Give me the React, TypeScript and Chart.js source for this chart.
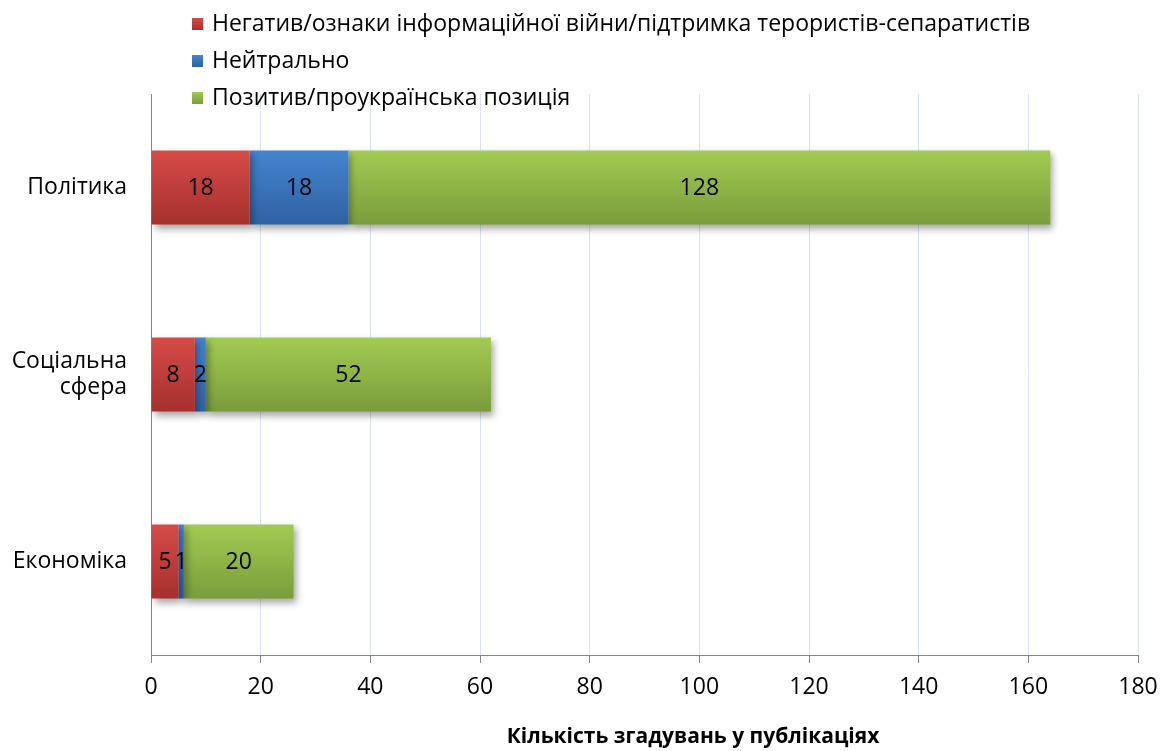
import React, { useEffect, useRef } from "react";
import { Chart, registerables } from "chart.js";

Chart.register(...registerables);

const categories: (string | string[])[] = ["Політика", ["Соціальна", "сфера"], "Економіка"];
const negativeValues = [18, 8, 5];
const neutralValues = [18, 2, 1];
const positiveValues = [128, 52, 20];
const seriesNames = [
  "Негатив/ознаки інформаційної війни/підтримка терористів-сепаратистів",
  "Нейтрально",
  "Позитив/проукраїнська позиція",
];
const xTitle = "Кількість згадувань у публікаціях";

const FONT = "'Open Sans', 'Noto Sans', sans-serif";

const palettes = [
  { top: "#D64B48", bottom: "#A5302D", swatch: "#C0504D" },
  { top: "#4484CF", bottom: "#2F62A2", swatch: "#4F81BD" },
  { top: "#A2CB52", bottom: "#7A9C3C", swatch: "#9BBB59" },
];

function gradientFor(idx: number) {
  return (ctx: any) => {
    const chart = ctx.chart;
    const yScale = chart.scales?.y;
    if (!yScale || ctx.dataIndex === undefined) return palettes[idx].swatch;
    const c = yScale.getPixelForValue(ctx.dataIndex);
    if (!isFinite(c)) return palettes[idx].swatch;
    const half = 37;
    const g = chart.ctx.createLinearGradient(0, c - half, 0, c + half);
    g.addColorStop(0, palettes[idx].top);
    g.addColorStop(1, palettes[idx].bottom);
    return g;
  };
}

const shadowPlugin = {
  id: "barShadow",
  beforeDatasetsDraw(chart: any) {
    const ctx = chart.ctx;
    ctx.save();
    ctx.shadowColor = "rgba(0,0,0,0.35)";
    ctx.shadowBlur = 7;
    ctx.shadowOffsetX = 3;
    ctx.shadowOffsetY = 4;
  },
  afterDatasetsDraw(chart: any) {
    chart.ctx.restore();
  },
};

const labelsPlugin = {
  id: "valueLabels",
  afterDatasetsDraw(chart: any) {
    const ctx = chart.ctx;
    ctx.save();
    ctx.shadowColor = "transparent";
    ctx.shadowBlur = 0;
    ctx.shadowOffsetX = 0;
    ctx.shadowOffsetY = 0;
    ctx.font = `23px ${FONT}`;
    ctx.fillStyle = "#000";
    ctx.textAlign = "center";
    ctx.textBaseline = "middle";
    chart.data.datasets.forEach((ds: any, di: number) => {
      const meta = chart.getDatasetMeta(di);
      meta.data.forEach((bar: any, i: number) => {
        const v = ds.data[i];
        const cx = (bar.x + bar.base) / 2;
        ctx.fillText(String(v), cx, bar.y + 1);
      });
    });
    ctx.restore();
  },
};

const legendPlugin = {
  id: "customLegend",
  afterDraw(chart: any) {
    const ctx = chart.ctx;
    ctx.save();
    ctx.font = `23px ${FONT}`;
    ctx.textBaseline = "middle";
    ctx.textAlign = "left";
    seriesNames.forEach((name, i) => {
      const y = 24 + i * 37;
      const g = ctx.createLinearGradient(0, y - 6, 0, y + 6);
      g.addColorStop(0, palettes[i].top);
      g.addColorStop(1, palettes[i].bottom);
      ctx.fillStyle = g;
      ctx.fillRect(192, y - 6, 11, 12);
      ctx.fillStyle = "#000";
      ctx.fillText(name, 212, y);
    });
    // axis title
    ctx.font = `bold 21px ${FONT}`;
    ctx.textAlign = "center";
    ctx.fillText(xTitle, 693, 737);
    ctx.restore();
  },
};

export default function App() {
  const ref = useRef<HTMLCanvasElement | null>(null);
  useEffect(() => {
    if (!ref.current) return;
    const chart = new Chart(ref.current, {
      type: "bar",
      data: {
        labels: categories,
        datasets: [
          { label: seriesNames[0], data: negativeValues, backgroundColor: gradientFor(0) },
          { label: seriesNames[1], data: neutralValues, backgroundColor: gradientFor(1) },
          { label: seriesNames[2], data: positiveValues, backgroundColor: gradientFor(2) },
        ],
      },
      options: {
        indexAxis: "y",
        animation: false,
        responsive: false,
        maintainAspectRatio: false,
        datasets: { bar: { categoryPercentage: 1, barPercentage: 0.396, borderWidth: 0 } },
        layout: { padding: { top: 94, right: 23, left: 0, bottom: 0 } },
        plugins: {
          legend: { display: false },
          tooltip: { enabled: false },
        },
        scales: {
          x: {
            stacked: true,
            min: 0,
            max: 180,
            ticks: { stepSize: 20, color: "#000", font: { family: FONT, size: 23 }, padding: 11 },
            grid: { color: "#D9E4F2", tickColor: "#868686", tickLength: 8, lineWidth: 1 },
            border: { color: "#868686", width: 1 },
            afterFit(scale: any) {
              scale.height = 96;
              scale.paddingLeft = 0;
              scale.paddingRight = 0;
            },
          },
          y: {
            stacked: true,
            grid: { display: false },
            border: { color: "#868686", width: 1 },
            ticks: { color: "#000", font: { family: FONT, size: 23, lineHeight: 1.15 }, padding: 16 },
            afterFit(scale: any) {
              scale.width = 151;
            },
          },
        },
      },
      plugins: [shadowPlugin, labelsPlugin, legendPlugin],
    });
    return () => chart.destroy();
  }, []);
  return (
    <div style={{ position: "fixed", left: 0, top: 0, width: 1161, height: 751, background: "#fff" }}>
      <canvas ref={ref} width={1161} height={751} />
    </div>
  );
}
